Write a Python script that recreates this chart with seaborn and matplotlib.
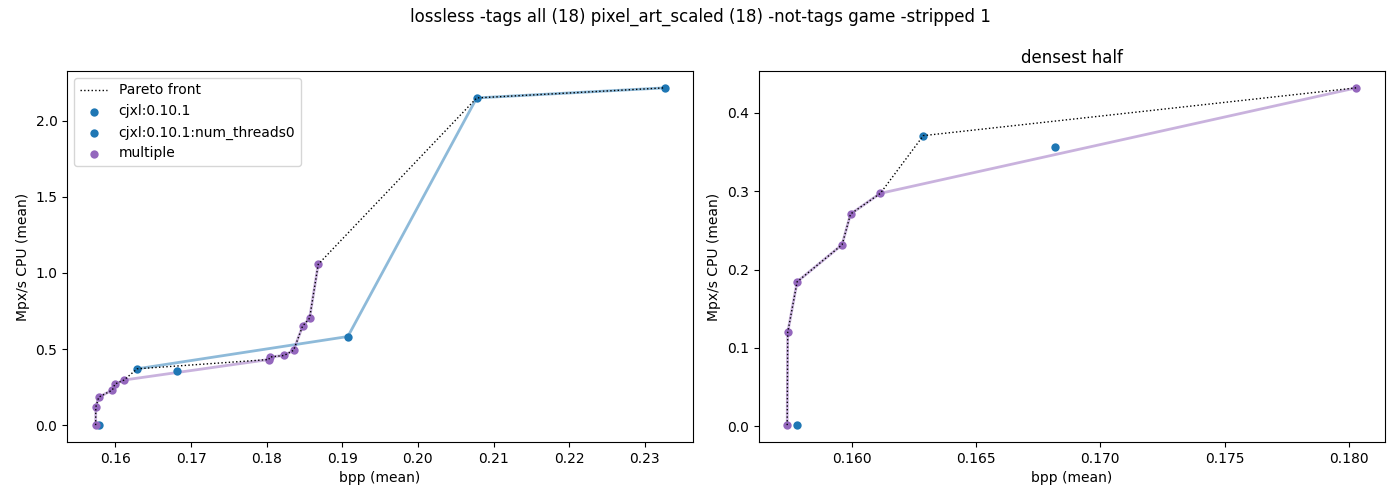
import pandas as pd
import seaborn as sns
import matplotlib.pyplot as plt

# Data
series_names = ["cjxl:0.10.1", "cjxl:0.10.1:num_threads0", "multiple"]
series_colors = ["#1f77b4", "#1f77b4", "#9467bd"]

cjxl_bpp = [0.16287, 0.16818, 0.19074, 0.20778, 0.23262]
cjxl_speed = [0.371, 0.356, 0.583, 2.149, 2.215]

threads_bpp = [0.15778]
threads_speed = [0.0013]

multiple_bpp = [0.15739, 0.15741, 0.15779, 0.15960, 0.15994, 0.16114, 0.18030,
                0.18040, 0.18233, 0.18357, 0.18475, 0.18568, 0.18682]
multiple_speed = [0.0013, 0.1196, 0.1844, 0.2317, 0.2709, 0.2973, 0.4320,
                  0.4480, 0.4590, 0.4930, 0.6510, 0.7030, 1.0570]

title = "lossless -tags all (18) pixel_art_scaled (18) -not-tags game -stripped 1"


# Points that no other point beats on both bpp and speed
def pareto(df):
    df = df.sort_values("bpp")
    best = -1.0
    keep = []
    for _, row in df.iterrows():
        if row["speed"] > best:
            keep.append(row)
            best = row["speed"]
    return pd.DataFrame(keep)


def draw_panel(ax, df, show_legend):
    front = pareto(df)
    sns.lineplot(x="bpp", y="speed", data=front, sort=False, estimator=None,
                 color="black", linestyle=":", linewidth=1, zorder=3,
                 label="Pareto front" if show_legend else None, ax=ax)
    for name, color in zip(series_names, series_colors):
        part = df[df["series"] == name]
        sfront = pareto(part)
        if len(sfront) > 1:
            ax.plot(sfront["bpp"], sfront["speed"], color=color, alpha=0.5,
                    linewidth=2, zorder=1)
        sns.scatterplot(x="bpp", y="speed", data=part, color=color, s=36,
                        linewidth=0, zorder=2,
                        label=name if show_legend else None, ax=ax)
    ax.set_xlabel("bpp (mean)")
    ax.set_ylabel("Mpx/s CPU (mean)")
    if show_legend:
        ax.legend(loc="upper left")
    elif ax.get_legend() is not None:
        ax.get_legend().remove()


def main():
    frames = []
    for name, bpp, speed in zip(series_names,
                                [cjxl_bpp, threads_bpp, multiple_bpp],
                                [cjxl_speed, threads_speed, multiple_speed]):
        frames.append(pd.DataFrame({"series": name, "bpp": bpp, "speed": speed}))
    df = pd.concat(frames, ignore_index=True)

    # densest half: the half of all points with the lowest bpp
    half = df.sort_values("bpp").head((len(df) + 1) // 2)

    fig, (ax1, ax2) = plt.subplots(1, 2, figsize=(14, 5), dpi=100)
    fig.subplots_adjust(left=0.048, right=0.989, top=0.858, bottom=0.116, wspace=0.105)

    draw_panel(ax1, df, True)
    draw_panel(ax2, half, False)
    ax2.set_title("densest half")

    fig.suptitle(title, y=0.985)
    fig.savefig("out.png", dpi=100)


main()
